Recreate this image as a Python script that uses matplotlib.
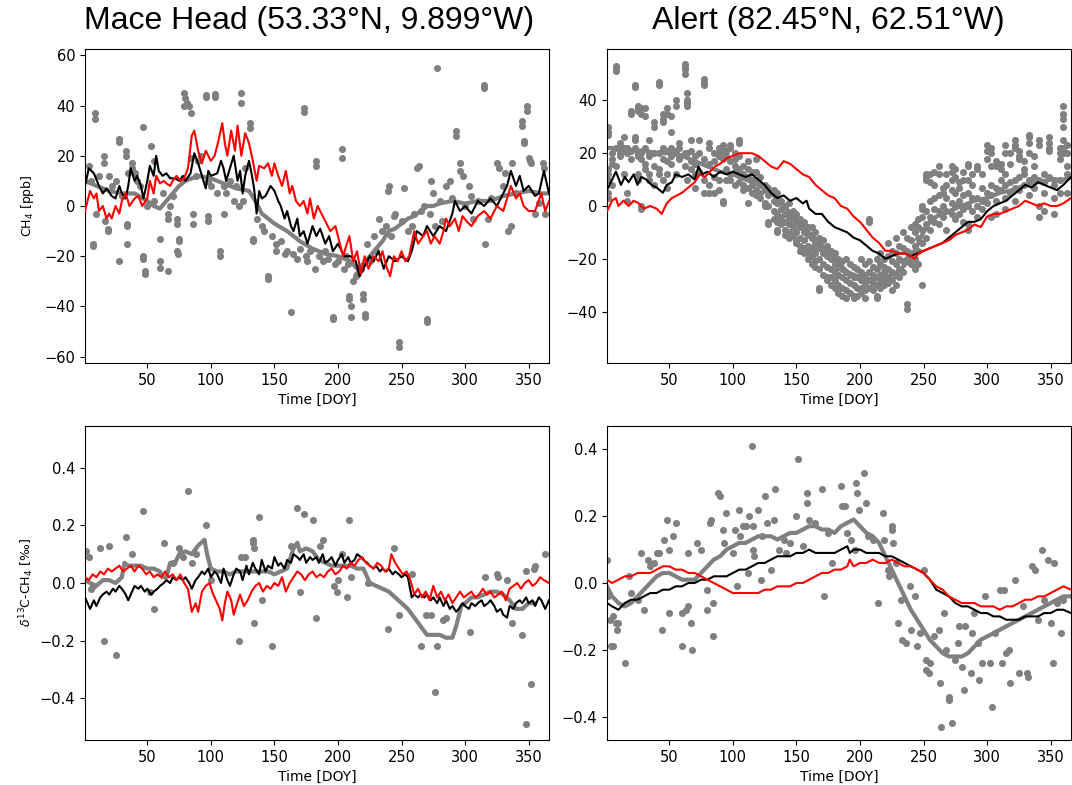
import matplotlib
matplotlib.use("Agg")
import matplotlib.pyplot as plt

# ---------------- Mace Head, CH4 anomaly [ppb] ----------------
mh_ch4_black_day = [1, 4, 8, 12, 15, 18, 22, 25, 28, 30, 33, 35, 37, 40, 42, 45, 47, 50, 52, 55, 57, 59, 62, 65, 68, 72,
                    75, 78, 80, 84, 87, 90, 93, 96, 98, 100, 105, 108, 110, 112, 115, 118, 121, 123, 125, 127, 130, 132,
                    134, 136, 138, 140, 143, 147, 150, 153, 155, 158, 160, 163, 165, 168, 170, 173, 176, 180, 183, 186,
                    190, 193, 196, 200, 205, 210, 214, 217, 220, 225, 228, 232, 236, 240, 245, 250, 255, 258, 262, 267,
                    270, 275, 280, 285, 290, 292, 296, 300, 305, 310, 315, 320, 325, 330, 333, 336, 340, 343, 346, 350,
                    355, 358, 362, 366]
mh_ch4_black_val = [8, 15, 13, 8, 5, 7, 4, 3, 8, 5, 3, 8, 15, 10, 12, 8, 3, 10, 16, 12, 20, 14, 12, 13, 11, 11,
                    10, 12, 10, 13, 21, 17, 12, 7, 14, 12, 13, 18, 15, 10, 15, 20, 10, 14, 5, 12, 18, 13,
                    7, -3, 6, 3, 4, 8, 6, 2, 0, -5, -2, -8, -10, -5, -12, -10, -15, -8, -12, -9,
                    -15, -12, -18, -15, -20, -20, -22, -28, -25, -20, -22, -18, -25, -20, -22, -20, -22, -18, -10, -12,
                    -8, -12, -8, -10, -3, 2, -2, 0, -3, 2, 0, 3, 0, 5, 8, 14, 8, 12, 6, 8,
                    4, 5, 14, 5]

mh_ch4_red_day = [1, 5, 8, 10, 12, 15, 18, 20, 22, 25, 28, 30, 33, 36, 40, 43, 46, 50, 52, 55, 57, 60, 63, 65, 68, 70,
                  73, 76, 79, 82, 85, 87, 90, 93, 96, 100, 103, 106, 109, 111, 113, 116, 119, 121, 124, 127, 130, 133,
                  136, 138, 142, 145, 148, 150, 153, 156, 159, 162, 164, 167, 170, 173, 176, 178, 181, 184, 187, 191,
                  194, 198, 201, 204, 207, 209, 212, 215, 218, 221, 224, 228, 232, 235, 238, 241, 244, 247, 250, 253,
                  256, 260, 263, 267, 270, 273, 276, 280, 283, 285, 288, 292, 295, 298, 301, 305, 310, 315, 320, 325,
                  330, 333, 336, 340, 343, 346, 350, 355, 360, 363, 366]
mh_ch4_red_val = [-2, 6, 3, 5, -2, 0, -5, -3, -5, 0, -3, 2, 5, 0, 3, 4, 0, 3, 10, 5, 12, 9, 10, 9, 8, 10,
                  12, 10, 11, 15, 28, 30, 22, 17, 22, 18, 20, 26, 33, 25, 20, 30, 22, 32, 20, 29, 25, 18,
                  10, 16, 15, 17, 12, 17, 12, 8, 14, 5, 8, 2, 0, 2, -3, 3, -5, 0, -3, -7,
                  -10, -8, -14, -20, -15, -12, -22, -18, -27, -20, -25, -20, -22, -18, -24, -28, -20, -22, -18, -22,
                  -20, -10, -15, -12, -10, -15, -12, -15, -10, -5, -8, -5, -10, -4, -6, -8, -4, -2, -5, 0,
                  -2, 3, 8, 3, 5, 0, -2, -2, 5, -2, 2]

mh_ch4_grey_day = [1, 10, 20, 30, 40, 50, 55, 60, 65, 70, 75, 80, 90, 100, 110, 120, 130, 135, 140, 145, 150, 160, 170,
                   180, 190, 200, 210, 215, 220, 225, 230, 235, 240, 245, 250, 255, 260, 265, 270, 275, 280, 290, 300,
                   310, 320, 330, 340, 350, 360, 366]
mh_ch4_grey_val = [10, 8, 6, 5, 5, 2, 0, -1, 2, 5, 8, 10, 12, 11, 9, 7, 6, 2, -3, -5, -7, -10, -14,
                   -17, -19, -20, -22, -25, -23, -20, -17, -14, -10, -9, -7, -5, -4, -2, 0, 0, 1, 2, 1,
                   2, 2, 4, 5, 6, 5, 5]

mh_ch4_obs = [(9, 37), (9, 34.5), (4, 16), (6, 10), (7, -15), (7, -16), (10, -3), (12, 12), (16, 20), (16, 17),
              (17, -6), (19, -9), (19, -10), (28, 26.5), (28, 25.5), (28, -22), (33, 22), (33, 20), (35, 13),
              (34, -7), (34, -8), (34, -15), (38, 17), (38, 15), (40, 13), (47, 31.5), (47, -21), (47, -20),
              (48, -26), (48, -27), (53, 24), (55, 18), (60, -13), (60, -22), (60, -24.5), (66, -26), (66, -5),
              (66, -3), (73, -5), (73, -7), (73, -18), (74, -19), (75, -13), (75, -14), (79, 45), (79, 40),
              (80, 43), (81, 41), (83, 40), (84, 37), (86, -3), (86, -7), (84, 19), (96, 44), (96, 43.5),
              (98, 10), (98, -4), (98, -6), (103, 44.5), (103, 43.5), (107, -18), (107, -20), (110, -3),
              (112, 5), (124, 45), (124, 41), (125, 2), (127, 15), (131, 33), (131, 31), (133, -13), (133, -14),
              (145, -28), (145, -29), (151, -15), (151, -18), (163, -42), (158, -19), (173, 39), (173, 37.5),
              (176, -22), (183, 18), (183, 16), (182, -25), (196, -44), (196, -45), (203, 22.5), (203, 19),
              (206, -20), (209, -36), (209, -37), (210, -40), (210, -44), (212, -30), (214, -28), (220, -35),
              (220, -37), (221, -43), (221, -44), (223, -15), (240, 8), (239, 6), (248, -54), (248, -56),
              (252, 7), (245, -3), (262, 15), (264, 16), (270, -45), (270, -46), (273, 10), (275, 5), (278, 55),
              (285, 8), (288, 10), (293, 30), (293, 28), (296, 17), (296, 14), (298, 12), (303, 8), (306, -5),
              (315, 48), (315, 47), (316, -15), (318, -5), (325, 17), (327, 15), (331, 13), (334, -10),
              (336, -8), (337, 17), (345, 34), (345, 32), (346, 26), (346, 25), (349, 40), (349, 38), (350, 19),
              (351, 18), (352, 17), (361, 17), (362, 15), (363, -3),
              (20, 12), (22, 8), (25, 10), (30, 4), (42, 10), (44, 8), (50, 0), (55, 2), (62, 5), (68, 0),
              (70, 4), (88, 12), (90, 18), (92, 20), (100, 8), (105, 5), (110, 8), (115, 10), (118, 2), (120, 8),
              (122, 0), (136, -5), (140, -8), (142, -10), (148, -12), (155, -14), (160, -18), (165, -19),
              (168, -21), (170, -17), (175, -20), (178, -18), (185, -20), (188, -22), (190, -18), (192, -21),
              (198, -23), (200, -22), (205, -25), (208, -23), (215, -27), (218, -25), (225, -22), (228, -12),
              (230, -18), (232, -5), (235, -10), (238, -8), (242, -12), (244, -4), (250, -6), (255, -10),
              (258, -8), (260, -3), (265, -2), (268, 0), (272, -3), (276, -8), (280, 2), (282, -6), (290, 3),
              (300, 0), (305, 4), (310, 2), (320, 3), (330, 8), (340, 5), (355, -3), (358, 1)]

# ---------------- Alert, CH4 anomaly [ppb] ----------------
al_ch4_black_day = [1, 5, 8, 12, 15, 18, 22, 25, 28, 32, 36, 40, 45, 48, 52, 55, 60, 65, 70, 73, 76, 80, 85, 90, 95,
                    100, 105, 110, 115, 120, 125, 130, 135, 140, 145, 150, 155, 158, 160, 165, 170, 175, 180, 185,
                    190, 195, 200, 205, 210, 215, 220, 225, 230, 235, 240, 245, 250, 255, 260, 265, 270, 275, 280,
                    285, 290, 295, 300, 305, 310, 315, 320, 325, 330, 335, 340, 345, 350, 355, 360, 366]
al_ch4_black_val = [6, 10, 13, 8, 11, 9, 12, 8, 11, 10, 8, 7, 5, 8, 9, 12, 11, 12, 10, 15, 12, 13, 11, 13, 12,
                    13, 12, 11, 12, 10, 8, 5, 3, 4, 2, 3, 1, 2, -1, -3, -3, -6, -8, -9,
                    -10, -12, -13, -15, -17, -18, -20, -19, -18, -18, -19, -18, -17, -16, -15, -14, -12, -10, -8,
                    -6, -6, -5, -2, 0, 1, 2, 4, 6, 8, 7, 9, 8, 7, 6, 8, 11]

al_ch4_red_day = [1, 5, 8, 10, 14, 18, 22, 26, 30, 35, 40, 44, 48, 52, 56, 60, 65, 70, 74, 78, 82, 86, 90, 95, 100,
                  105, 110, 115, 120, 125, 130, 135, 140, 145, 150, 155, 160, 165, 170, 175, 180, 185, 190, 195,
                  200, 205, 210, 215, 220, 225, 230, 235, 240, 243, 246, 250, 255, 260, 265, 270, 275, 280, 285,
                  290, 295, 300, 305, 310, 315, 320, 325, 330, 335, 340, 345, 350, 355, 360, 366]
al_ch4_red_val = [-2, 2, 3, 0, 2, 0, 2, 1, -1, 0, -1, -3, 1, 3, 4, 5, 7, 9, 12, 11, 13, 15, 16, 18, 19,
                  20, 20, 20, 19, 17, 15, 14, 17, 16, 14, 12, 11, 8, 6, 4, 3, 0, -1, -4,
                  -6, -9, -12, -14, -17, -17, -18, -18, -19, -20, -18, -17, -16, -15, -14, -13, -11, -10, -9,
                  -7, -8, -4, -3, -3, -2, -1, 0, 2, 1, 0, 1, 0, 0, 1, 3]

al_ch4_grey_day = [1, 10, 20, 30, 40, 50, 60, 70, 80, 90, 100, 110, 120, 130, 140, 150, 160, 170, 180, 190, 200, 210,
                   220, 230, 240, 245, 250, 255, 260, 270, 280, 290, 300, 310, 320, 330, 340, 350, 360, 366]
al_ch4_grey_val = [22, 22, 21, 21, 20, 20, 19, 17, 15, 13, 12, 10, 8, 5, 0, -5, -10, -15, -20, -25, -27, -28,
                   -27, -25, -20, -15, -10, -6, -4, -2, 0, 2, 3, 5, 6, 8, 9, 10, 10, 11]

al_ch4_obs_day = [2, 5, 8, 11, 14, 17, 20, 23, 25, 28, 31, 34, 38, 42, 45, 48, 51, 55, 58, 62, 64, 67, 70, 73, 77,
                  81, 85, 89, 92, 95, 98, 102, 105, 108, 112, 115, 118, 121, 125, 128, 132, 135, 138, 141, 144,
                  147, 150, 153, 156, 159, 162, 165, 168, 171, 174, 177, 180, 183, 186, 189, 192, 195, 198, 201,
                  204, 207, 210, 213, 216, 219, 222, 225, 228, 231, 234, 237, 240, 243, 246, 249, 252, 255, 258,
                  262, 265, 268, 272, 275, 278, 281, 285, 288, 292, 296, 300, 303, 307, 311, 314, 318, 322, 325,
                  329, 333, 337, 341, 345, 349, 353, 357, 360, 363]
al_ch4_obs_val = [[14, 12, 10, 5, 3, 30, 28, 27], [20, 18, 16, 8], [53, 52, 51, 22, 15], [24, 20, 19],
                  [26, 22, 21, 12], [22, 20, 5, 2], [36, 35, 21, 18], [46, 45, 26, 25, 22],
                  [38, 37, 36, 20, 19, 12, 10], [37, 35, 20, 18, 0, -1], [37, 34, 22, 16, 14], [25, 20, 19, 12, 10],
                  [32, 30, 20, 15, 8], [47, 46, 20, 14, 12], [35, 33, 32, 22, 18, 10], [37, 35, 21, 17, 12, 7],
                  [34, 28, 22, 19, 16], [40, 38, 21, 12], [24, 22, 19, 18], [54, 53, 52, 50, 20, 15],
                  [43, 40, 39, 38, 20, 10], [25, 21, 17, 14], [19, 16, 12, 7], [25, 20, 13], [48, 47, 46, 18, 10, 5],
                  [24, 22, 16, 8, 5], [20, 17, 11, 5], [22, 20, 19, 10, 6], [23, 21, 18, 2, 1], [21, 19, 14, 10],
                  [23, 22, 17, 12, 10], [20, 18, 15, 13, 8], [25, 24, 19, 14, 9], [15, 12, 8, 6],
                  [17, 14, 11, 7, 1], [13, 10, 8, 5], [18, 13, 9, 6, 4], [11, 8, 5, 3], [8, 6, 1, 0],
                  [7, 4, 0, -6, -7], [6, 2, -2, -5], [5, 1, -3, -6, -9, -10], [2, -1, -4, -7], [0, -3, -6, -9, -11],
                  [1, -4, -7, -10, -12], [-2, -5, -8, -11], [-3, -6, -10, -13, -14], [-5, -8, -12, -15, -17],
                  [-6, -10, -13, -16, -18], [-8, -11, -15, -18, -20], [-8, -12, -16, -19, -22],
                  [-10, -14, -18, -21, -23], [-12, -16, -20, -24, -31, -32], [-13, -18, -22, -26],
                  [-15, -19, -23, -27, -28], [-17, -20, -24, -27, -30], [-18, -22, -25, -28, -31],
                  [-20, -23, -26, -30, -33], [-21, -24, -27, -31, -34], [-20, -25, -28, -32, -35],
                  [-22, -26, -29, -33], [-23, -27, -30, -34, -35], [-24, -27, -31, -34], [-20, -25, -28, -31, -33],
                  [-22, -26, -29, -32, -35], [-6, -5, -21, -25, -28, -31], [-23, -26, -29, -32],
                  [-20, -24, -27, -30, -34, -35], [-18, -22, -26, -29, -31], [-20, -23, -25, -28, -30],
                  [-14, -19, -24, -27, -29], [-17, -21, -25, -28, -32], [-12, -18, -22, -26, -30],
                  [-15, -20, -24, -27], [-10, -16, -21, -25], [-12, -17, -20, -37, -39], [-8, -13, -18, -22],
                  [-7, -10, -15, -20, -24], [-5, -8, -12, -17, -22], [0, -1, -4, -9, -14, -30],
                  [12, 11, 10, -2, -7, -12], [12, 9, 2, -4, -9], [13, 8, 3, -1, -6], [15, 12, 4, -2, -7],
                  [7, 5, 0, -4], [12, 8, 3, -2, -9], [15, 13, 10, 6, 1, -3], [14, 11, 5, 0, -5], [9, 7, 2, -3],
                  [13, 10, 4, -1, -6], [16, 15, 10, 5, 0, -7, -9], [12, 8, 3, -2], [15, 14, 3, 0, -4],
                  [12, 7, 2, -1], [23, 21, 18, 5, 1], [22, 20, 15, 8, 4, -4], [17, 15, 7, 2, -3], [16, 14, 10, 6],
                  [23, 20, 12, 8, 3, -1], [20, 16, 9, 5], [25, 23, 22, 10, 7, 2], [21, 19, 18, 11, 6],
                  [17, 14, 12, 8], [27, 26, 24, 20, 10, 4], [19, 15, 11, 7], [25, 23, 10, 0, -4], [12, 9, 5, -2],
                  [26, 24, 22, 21, 11], [10, 8, 3, -3], [22, 20, 18, 10, 5], [38, 35, 33, 30, 25, 22, 20],
                  [23, 20, 15, 12, 5]]

# ---------------- Mace Head, d13C-CH4 anomaly [permil] ----------------
mh_d13_black_day = [1, 3, 5, 8, 10, 13, 15, 18, 20, 23, 25, 28, 30, 33, 35, 38, 40, 43, 45, 48, 50, 53, 55, 58, 60,
                    63, 65, 68, 70, 73, 75, 78, 80, 83, 85, 88, 90, 93, 95, 98, 100, 103, 105, 108, 110, 113, 115,
                    118, 120, 123, 125, 128, 130, 133, 135, 138, 140, 143, 145, 148, 150, 153, 155, 158, 160, 163,
                    165, 168, 170, 173, 175, 178, 180, 183, 185, 188, 190, 193, 195, 198, 200, 203, 205, 208, 210,
                    213, 215, 218, 220, 223, 225, 228, 230, 233, 235, 238, 240, 243, 245, 248, 250, 253, 255, 258,
                    260, 263, 265, 268, 270, 273, 275, 278, 280, 283, 285, 288, 290, 293, 295, 298, 300, 303, 305,
                    308, 310, 313, 315, 318, 320, 323, 325, 328, 330, 333, 335, 338, 340, 343, 345, 348, 350, 353,
                    355, 358, 360, 363, 366]
mh_d13_black_val = [-0.05, -0.07, -0.09, -0.06, -0.08, -0.05, -0.04, -0.03, -0.04, -0.02, -0.03, -0.01, -0.02, -0.04,
                    -0.06, -0.03, -0.01, -0.02, -0.01, -0.03, -0.02, -0.04, -0.03, -0.02, -0.01, 0.0, 0.01, 0.0,
                    0.02, 0.01, 0.02, 0.01, 0.02, 0.0, -0.02, 0.01, 0.02, 0.04, 0.03, 0.05, 0.02, 0.04, 0.03, 0.0,
                    0.05, 0.01, -0.01, 0.03, 0.05, 0.04, 0.01, 0.06, 0.03, 0.07, 0.05, 0.03, 0.08, 0.04, 0.06,
                    0.05, 0.09, 0.06, 0.07, 0.05, 0.08, 0.07, 0.10, 0.09, 0.08, 0.10, 0.07, 0.09, 0.08, 0.09,
                    0.07, 0.10, 0.07, 0.08, 0.09, 0.06, 0.08, 0.10, 0.07, 0.09, 0.07, 0.08, 0.10, 0.09, 0.08,
                    0.07, 0.06, 0.05, 0.06, 0.04, 0.05, 0.04, 0.05, 0.03, 0.04, 0.03, 0.02, 0.03, 0.02, -0.05,
                    -0.04, -0.05, -0.04, -0.05, -0.04, -0.06, -0.05, -0.07, -0.05, -0.08, -0.06, -0.09, -0.08,
                    -0.10, -0.09, -0.07, -0.08, -0.09, -0.07, -0.08, -0.07, -0.06, -0.08, -0.07, -0.06, -0.08,
                    -0.10, -0.09, -0.11, -0.12, -0.08, -0.09, -0.07, -0.06, -0.07, -0.05, -0.07, -0.06, -0.08,
                    -0.05, -0.06, -0.09, -0.06]

mh_d13_red_day = [1, 4, 7, 10, 13, 16, 19, 22, 25, 28, 31, 34, 37, 40, 43, 46, 49, 52, 55, 58, 61, 64, 67, 70, 73,
                  76, 79, 82, 85, 88, 90, 93, 96, 99, 101, 104, 107, 109, 111, 113, 116, 118, 120, 123, 126, 129,
                  132, 135, 138, 141, 144, 147, 150, 153, 156, 159, 162, 165, 168, 171, 174, 177, 180, 183, 186,
                  189, 192, 195, 198, 201, 204, 207, 210, 213, 216, 219, 222, 225, 228, 231, 234, 237, 240, 242,
                  245, 248, 251, 254, 257, 260, 263, 266, 269, 272, 275, 278, 281, 284, 287, 290, 293, 296, 299,
                  302, 305, 308, 311, 314, 317, 320, 323, 326, 329, 332, 335, 338, 341, 344, 347, 350, 353, 356,
                  359, 362, 366]
mh_d13_red_val = [0.02, 0.01, 0.03, 0.02, 0.04, 0.03, 0.05, 0.04, 0.05, 0.06, 0.04, 0.05, 0.06, 0.04, 0.06, 0.05,
                  0.03, 0.04, 0.02, 0.03, 0.02, 0.04, 0.02, 0.03, 0.01, 0.03, 0.0, -0.02, -0.10, -0.07, -0.10,
                  -0.03, -0.01, 0.0, -0.03, -0.06, -0.09, -0.13, -0.07, -0.03, -0.06, -0.11, -0.08, -0.04, -0.08,
                  -0.06, -0.03, -0.01, 0.0, -0.03, -0.01, -0.02, 0.0, -0.01, 0.02, -0.03, 0.0, 0.02, 0.04, 0.03,
                  0.01, 0.03, 0.04, 0.02, 0.03, 0.02, 0.04, 0.05, 0.03, 0.04, 0.06, 0.05, 0.07, 0.06, 0.08, 0.09,
                  0.07, 0.06, 0.05, 0.07, 0.06, 0.04, 0.05, 0.10, 0.07, 0.05, 0.03, 0.04, 0.01, -0.04, -0.02,
                  -0.05, -0.03, -0.06, -0.01, -0.05, -0.03, -0.06, -0.04, -0.07, -0.05, -0.03, -0.05, -0.04,
                  -0.03, -0.05, -0.04, -0.02, -0.04, -0.03, -0.05, -0.04, -0.03, -0.06, -0.02, -0.01, 0.0, -0.02,
                  0.0, 0.01, -0.01, 0.0, 0.02, 0.01, 0.0]

mh_d13_grey_day = [1, 5, 10, 15, 20, 25, 30, 32, 35, 40, 45, 50, 55, 60, 62, 65, 68, 72, 75, 80, 85, 90, 95, 97,
                   100, 105, 110, 115, 120, 125, 130, 135, 140, 145, 150, 155, 160, 165, 168, 170, 175, 180, 185,
                   190, 195, 200, 205, 210, 215, 220, 225, 230, 235, 240, 245, 250, 255, 260, 265, 270, 275, 280,
                   285, 290, 293, 297, 300, 305, 310, 315, 320, 325, 330, 335, 340, 345, 350, 355]
mh_d13_grey_val = [0.01, 0.0, -0.01, 0.01, 0.01, 0.0, 0.02, 0.07, 0.06, 0.06, 0.06, 0.05, 0.05, 0.04, 0.02, 0.02,
                   0.07, 0.07, 0.10, 0.11, 0.10, 0.13, 0.15, 0.10, 0.05, 0.04, 0.04, 0.03, 0.04, 0.04, 0.04, 0.04,
                   0.04, 0.04, 0.03, 0.04, 0.05, 0.12, 0.14, 0.11, 0.12, 0.11, 0.08, 0.07, 0.06, 0.06, 0.06, 0.06,
                   0.05, 0.05, 0.0, -0.01, -0.02, -0.03, -0.05, -0.07, -0.09, -0.12, -0.15, -0.18, -0.18, -0.18,
                   -0.19, -0.19, -0.15, -0.08, -0.07, -0.05, -0.05, -0.04, -0.03, -0.03, -0.04, -0.06, -0.09,
                   -0.09, -0.07, -0.07]

mh_d13_obs = [(2, 0.11), (4, 0.09), (6, -0.02), (7, -0.01), (13, 0.12), (16, -0.20), (20, 0.13), (25, -0.25),
              (33, 0.16), (38, 0.10), (47, 0.25), (52, -0.03), (55, -0.09), (63, 0.14), (70, 0.07), (75, 0.12),
              (78, 0.09), (82, 0.32), (85, 0.07), (88, 0.10), (96, 0.20), (100, 0.01), (122, -0.20), (124, 0.09),
              (127, 0.09), (133, 0.14), (133, 0.15), (134, 0.12), (134, -0.14), (138, 0.23), (140, -0.06),
              (148, -0.22), (163, 0.13), (168, 0.26), (170, -0.03), (173, 0.24), (180, 0.22), (183, -0.12),
              (186, 0.13), (188, 0.15), (197, -0.01), (199, -0.03), (200, 0.01), (203, 0.10), (207, -0.05),
              (209, 0.22), (210, 0.02), (224, 0.0), (239, -0.16), (244, 0.12), (248, -0.11), (258, 0.03),
              (265, -0.22), (269, -0.11), (273, -0.11), (276, -0.38), (278, -0.22), (283, -0.13), (285, -0.12),
              (304, -0.17), (316, 0.02), (325, 0.03), (326, 0.02), (333, 0.01), (337, -0.14), (345, -0.18),
              (348, 0.04), (348, -0.49), (352, -0.35), (354, 0.05), (355, 0.06), (363, 0.10)]

# ---------------- Alert, d13C-CH4 anomaly [permil] ----------------
al_d13_black_day = [1, 5, 10, 15, 20, 25, 30, 35, 40, 45, 50, 55, 60, 65, 70, 75, 80, 85, 90, 95, 100, 105, 110,
                    115, 120, 125, 130, 135, 140, 145, 150, 155, 160, 165, 170, 175, 180, 185, 190, 192, 195, 200,
                    205, 210, 215, 220, 225, 230, 235, 240, 245, 250, 255, 260, 265, 270, 275, 280, 285, 290, 295,
                    300, 305, 310, 315, 320, 325, 330, 335, 340, 345, 350, 355, 360, 366]
al_d13_black_val = [-0.06, -0.07, -0.08, -0.06, -0.05, -0.05, -0.04, -0.03, -0.03, -0.02, -0.02, -0.01, -0.01, 0.0,
                    0.0, 0.01, 0.01, 0.02, 0.02, 0.02, 0.03, 0.04, 0.04, 0.05, 0.06, 0.06, 0.07, 0.08, 0.08, 0.08,
                    0.09, 0.09, 0.10, 0.09, 0.09, 0.09, 0.09, 0.10, 0.11, 0.09, 0.10, 0.10, 0.09, 0.09, 0.09,
                    0.08, 0.08, 0.07, 0.06, 0.05, 0.04, 0.03, 0.01, -0.02, -0.03, -0.04, -0.06, -0.07, -0.07,
                    -0.08, -0.09, -0.09, -0.10, -0.10, -0.11, -0.11, -0.11, -0.10, -0.10, -0.10, -0.09, -0.09,
                    -0.08, -0.08, -0.09]

al_d13_red_day = [1, 5, 10, 15, 20, 25, 30, 35, 40, 45, 50, 55, 60, 65, 70, 75, 80, 85, 90, 95, 100, 105, 110, 115,
                  120, 125, 130, 135, 140, 145, 150, 155, 160, 165, 170, 175, 180, 185, 190, 192, 195, 200, 205,
                  210, 215, 220, 225, 230, 235, 240, 245, 250, 255, 260, 265, 270, 275, 280, 285, 290, 295, 300,
                  305, 310, 315, 320, 325, 330, 335, 340, 345, 350, 355, 360, 366]
al_d13_red_val = [0.01, 0.0, 0.01, 0.02, 0.02, 0.03, 0.03, 0.03, 0.04, 0.05, 0.05, 0.04, 0.04, 0.03, 0.03, 0.02,
                  0.01, 0.0, -0.01, -0.02, -0.03, -0.03, -0.03, -0.03, -0.03, -0.02, -0.02, -0.01, -0.01, -0.01,
                  0.0, 0.0, 0.01, 0.02, 0.03, 0.03, 0.04, 0.04, 0.05, 0.07, 0.05, 0.06, 0.06, 0.07, 0.06, 0.06,
                  0.07, 0.06, 0.05, 0.05, 0.04, 0.03, 0.01, -0.01, -0.02, -0.04, -0.05, -0.06, -0.06, -0.06,
                  -0.07, -0.07, -0.07, -0.08, -0.07, -0.07, -0.06, -0.05, -0.05, -0.04, -0.04, -0.03, -0.02,
                  -0.01, -0.02]

al_d13_grey_day = [1, 5, 10, 15, 20, 25, 30, 35, 40, 45, 50, 55, 60, 65, 70, 75, 80, 85, 90, 95, 100, 105, 110, 115,
                   120, 125, 130, 135, 140, 145, 150, 155, 160, 165, 170, 175, 180, 185, 190, 195, 200, 205, 210,
                   215, 220, 225, 230, 235, 240, 245, 250, 255, 260, 265, 270, 275, 280, 285, 290, 295, 300, 305,
                   310, 315, 320, 325, 330, 335, 340, 345, 350, 355, 360, 366]
al_d13_grey_val = [-0.01, -0.04, -0.06, -0.07, -0.06, -0.04, -0.02, 0.0, 0.02, 0.03, 0.03, 0.02, 0.01, 0.01, 0.01,
                   0.03, 0.05, 0.07, 0.08, 0.10, 0.11, 0.12, 0.12, 0.13, 0.14, 0.14, 0.14, 0.13, 0.14, 0.15, 0.15,
                   0.16, 0.17, 0.17, 0.16, 0.16, 0.15, 0.17, 0.18, 0.19, 0.17, 0.15, 0.14, 0.12, 0.08, 0.04, 0.0,
                   -0.04, -0.08, -0.11, -0.14, -0.17, -0.19, -0.21, -0.22, -0.22, -0.22, -0.21, -0.19, -0.17,
                   -0.16, -0.15, -0.14, -0.13, -0.12, -0.11, -0.10, -0.09, -0.08, -0.07, -0.06, -0.05, -0.04, -0.04]

al_d13_obs = [(1, 0.07), (2, -0.04), (3, -0.11), (4, -0.19), (6, -0.19), (6, -0.10), (8, -0.12), (9, -0.14),
              (10, -0.12), (15, -0.24), (18, 0.02), (20, -0.03), (25, -0.05), (28, 0.09), (30, -0.08), (33, 0.07),
              (35, 0.05), (38, 0.06), (40, 0.09), (42, 0.09), (44, -0.14), (46, 0.13), (48, 0.19), (50, -0.09),
              (50, 0.10), (53, 0.14), (55, 0.18), (60, -0.19), (60, -0.09), (63, -0.08), (65, 0.09), (65, -0.07),
              (67, -0.12), (68, -0.20), (72, 0.12), (75, 0.10), (80, -0.08), (80, -0.02), (82, 0.18), (83, 0.19),
              (84, -0.16), (84, -0.06), (88, 0.27), (90, 0.26), (92, 0.16), (93, 0.12), (95, 0.21), (100, 0.09),
              (102, 0.16), (103, -0.01), (105, 0.22), (106, 0.14), (108, 0.17), (110, 0.17), (112, 0.03),
              (113, 0.20), (115, 0.41), (116, 0.17), (116, 0.10), (117, 0.08), (120, 0.22), (122, 0.01),
              (123, 0.14), (125, 0.26), (127, 0.18), (130, 0.04), (132, 0.19), (133, 0.28), (136, 0.10),
              (140, 0.13), (142, 0.09), (145, 0.12), (150, 0.20), (151, 0.37), (155, 0.11), (158, 0.24),
              (158, 0.27), (160, 0.19), (165, 0.18), (170, 0.28), (172, -0.04), (175, 0.15), (178, 0.06),
              (185, 0.29), (186, 0.23), (188, 0.23), (190, 0.15), (193, 0.13), (196, 0.10), (197, 0.30),
              (198, 0.27), (199, 0.22), (203, 0.33), (205, 0.24), (206, 0.14), (210, 0.13), (214, -0.06),
              (218, 0.21), (219, 0.13), (222, 0.04), (223, 0.02), (225, 0.17), (225, 0.16), (226, 0.12),
              (228, 0.06), (230, -0.12), (232, -0.05), (233, -0.17), (236, -0.18), (239, -0.01), (240, -0.14),
              (243, -0.04), (245, -0.19), (247, -0.15), (250, 0.04), (252, -0.23), (252, -0.26), (254, -0.27),
              (255, -0.24), (258, -0.16), (262, -0.14), (263, -0.30), (264, -0.43), (266, -0.09), (268, -0.20),
              (270, -0.34), (270, -0.35), (272, -0.42), (275, -0.23), (277, -0.18), (278, -0.13), (280, -0.25),
              (282, -0.32), (283, -0.13), (287, -0.27), (288, -0.15), (290, -0.09), (293, -0.18), (294, -0.29),
              (296, -0.24), (298, -0.04), (302, -0.24), (304, -0.37), (306, -0.15), (310, -0.02), (312, -0.24),
              (313, -0.02), (315, -0.21), (317, -0.20), (318, -0.30), (322, 0.01), (325, -0.27), (328, -0.07),
              (331, -0.27), (332, -0.28), (335, 0.05), (338, 0.04), (340, -0.11), (343, 0.10), (345, -0.05),
              (348, 0.07), (350, -0.12), (352, -0.24), (353, 0.06), (355, -0.06), (358, -0.15), (360, -0.05)]

titles = ["Mace Head (53.33°N, 9.899°W)", "Alert (82.45°N, 62.51°W)"]


def draw(ax, obs_x, obs_y, grey, black, red, ylim):
    ax.scatter(obs_x, obs_y, s=26, color="grey", zorder=1, linewidths=0)
    ax.plot(grey[0], grey[1], color="grey", lw=3, zorder=2)
    ax.plot(black[0], black[1], color="black", lw=1.5, zorder=3)
    ax.plot(red[0], red[1], color="red", lw=1.5, zorder=4)
    ax.set_xlim(1, 366)
    ax.set_ylim(ylim)
    ax.set_xticks([50, 100, 150, 200, 250, 300, 350])
    ax.set_xlabel("Time [DOY]", fontsize=10)
    ax.tick_params(labelsize=10.5)


fig = plt.figure(figsize=(10.72, 7.85), dpi=100)
w, h = 464 / 1072, 314 / 785
ax1 = fig.add_axes([85 / 1072, 1 - 363 / 785, w, h])
ax2 = fig.add_axes([607 / 1072, 1 - 363 / 785, w, h])
ax3 = fig.add_axes([85 / 1072, 1 - 740 / 785, w, h])
ax4 = fig.add_axes([607 / 1072, 1 - 740 / 785, w, h])

mx, my = zip(*mh_ch4_obs)
draw(ax1, mx, my, (mh_ch4_grey_day, mh_ch4_grey_val), (mh_ch4_black_day, mh_ch4_black_val),
     (mh_ch4_red_day, mh_ch4_red_val), (-62.5, 62.5))
ax1.set_yticks([-60, -40, -20, 0, 20, 40, 60])

ax_x = [d for d, vals in zip(al_ch4_obs_day, al_ch4_obs_val) for v in vals]
ax_y = [v for vals in al_ch4_obs_val for v in vals]
draw(ax2, ax_x, ax_y, (al_ch4_grey_day, al_ch4_grey_val), (al_ch4_black_day, al_ch4_black_val),
     (al_ch4_red_day, al_ch4_red_val), (-59.5, 59.5))
ax2.set_yticks([-40, -20, 0, 20, 40])

mx, my = zip(*mh_d13_obs)
draw(ax3, mx, my, (mh_d13_grey_day, mh_d13_grey_val), (mh_d13_black_day, mh_d13_black_val),
     (mh_d13_red_day, mh_d13_red_val), (-0.545, 0.545))
ax3.set_yticks([-0.4, -0.2, 0.0, 0.2, 0.4])

mx, my = zip(*al_d13_obs)
draw(ax4, mx, my, (al_d13_grey_day, al_d13_grey_val), (al_d13_black_day, al_d13_black_val),
     (al_d13_red_day, al_d13_red_val), (-0.47, 0.47))
ax4.set_yticks([-0.4, -0.2, 0.0, 0.2, 0.4])

ax1.set_ylabel("CH$_4$ [ppb]", fontsize=9)
ax3.set_ylabel(r"$\delta^{13}$C-CH$_4$ [‰]", fontsize=9)
ax1.yaxis.set_label_coords(-0.105, 0.5)
ax3.yaxis.set_label_coords(-0.105, 0.5)

fig.text(309 / 1072, 0.973, titles[0], ha="center", va="center", fontsize=23, family="Liberation Sans")
fig.text(828 / 1072, 0.973, titles[1], ha="center", va="center", fontsize=23, family="Liberation Sans")

fig.savefig("out.png", dpi=100)
